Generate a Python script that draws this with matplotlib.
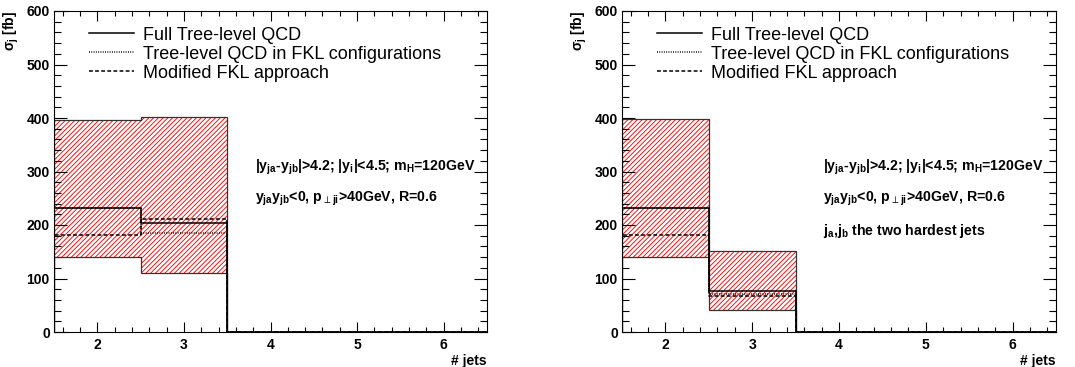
import matplotlib
matplotlib.use("Agg")
import matplotlib.pyplot as plt
import numpy as np
from matplotlib.ticker import MultipleLocator

plt.rcParams['font.family'] = ['Liberation Sans', 'DejaVu Sans']
plt.rcParams['mathtext.default'] = 'regular'
plt.rcParams['hatch.color'] = 'red'
plt.rcParams['hatch.linewidth'] = 0.65

# ---- data ----
n_jets = [2, 3, 4, 5, 6]
legend_labels = ["Full Tree-level QCD", "Tree-level QCD in FKL configurations", "Modified FKL approach"]

left_full = [231, 204, 0, 0, 0]
left_fkl = [231, 185, 0, 0, 0]
left_mod = [181, 212, 0, 0, 0]
left_lo = [141, 111, 0, 0, 0]
left_hi = [397, 401, 0, 0, 0]

right_full = [231, 76, 0, 0, 0]
right_fkl = [231, 71, 0, 0, 0]
right_mod = [181, 67, 0, 0, 0]
right_lo = [141, 41, 0, 0, 0]
right_hi = [398, 151, 0, 0, 0]

cut_lines_left = [r"|y$_{ja}$-y$_{jb}$|>4.2; |y$_{i}$|<4.5; m$_{H}$=120GeV",
                  r"y$_{ja}$y$_{jb}$<0, p$_{\perp ji}$>40GeV, R=0.6"]
cut_lines_right = cut_lines_left + [r"j$_{a}$,j$_{b}$ the two hardest jets"]

W, H = 1075, 367
fig = plt.figure(figsize=(W / 100, H / 100), dpi=100)


def edges_of(bins):
    b = np.asarray(bins, float)
    return np.concatenate([b - 0.5, [b[-1] + 0.5]])


def step_xy(bins, vals):
    e = edges_of(bins)
    x = np.repeat(e, 2)
    v = np.asarray(vals, float)
    y = np.concatenate([[0], np.repeat(v, 2), [0]])
    return x, y


def panel(rect, full, fkl, mod, lo, hi, lines):
    ax = fig.add_axes(rect)
    e = edges_of(n_jets)
    nz = [i for i, v in enumerate(hi) if v > 0]
    for i in nz:
        ax.fill_between([e[i], e[i + 1]], [lo[i]] * 2, [hi[i]] * 2,
                        facecolor='none', edgecolor='red', hatch='///////', linewidth=0)
    for vals in (hi, lo):
        x, y = step_xy(n_jets, vals)
        ax.plot(x, y, color='#333333', lw=0.9, solid_joinstyle='miter')
    h = []
    for vals, ls in ((full, '-'), (fkl, (0, (0.6, 0.9))), (mod, (0, (2.5, 1.5)))):
        x, y = step_xy(n_jets, vals)
        l, = ax.plot(x, y, color='black', lw=1.1, linestyle=ls)
        h.append(l)
    ax.set_xlim(1.5, 6.5)
    ax.set_ylim(0, 600)
    ax.xaxis.set_major_locator(MultipleLocator(1))
    ax.xaxis.set_minor_locator(MultipleLocator(0.2))
    ax.yaxis.set_major_locator(MultipleLocator(100))
    ax.yaxis.set_minor_locator(MultipleLocator(20))
    ax.tick_params(axis='both', which='both', direction='in', top=True, right=True, width=0.8)
    ax.tick_params(axis='y', which='major', length=9.4, pad=3)
    ax.tick_params(axis='y', which='minor', length=4.7)
    ax.tick_params(axis='x', which='major', length=6.9, pad=4)
    ax.tick_params(axis='x', which='minor', length=3.5)
    for lab in ax.get_xticklabels() + ax.get_yticklabels():
        lab.set_fontweight('bold')
        lab.set_fontsize(10)
    for s in ax.spines.values():
        s.set_linewidth(0.8)
    ax.legend(h, legend_labels, loc='upper left', bbox_to_anchor=(0.072, 0.962),
              frameon=False, fontsize=13, handlelength=2.5, handletextpad=0.5,
              labelspacing=0.11, borderpad=0.2, borderaxespad=0)
    ys = [0.5016, 0.405, 0.302]
    for t, yy in zip(lines, ys):
        ax.text(0.464, yy, t, transform=ax.transAxes, fontsize=10.2, fontweight='bold',
                va='baseline', ha='left')
    ax.set_xlabel("# jets", fontweight='bold', fontsize=10, loc='right', labelpad=2)
    ax.set_ylabel(r"$\sigma_{j}$ [fb]", fontweight='bold', fontsize=10, loc='top', labelpad=4)
    return ax


panel([54 / W, 35 / H, 433 / W, 321 / H], left_full, left_fkl, left_mod, left_lo, left_hi, cut_lines_left)
panel([622 / W, 35 / H, 434 / W, 321 / H], right_full, right_fkl, right_mod, right_lo, right_hi, cut_lines_right)

fig.savefig("out.png", dpi=100)
